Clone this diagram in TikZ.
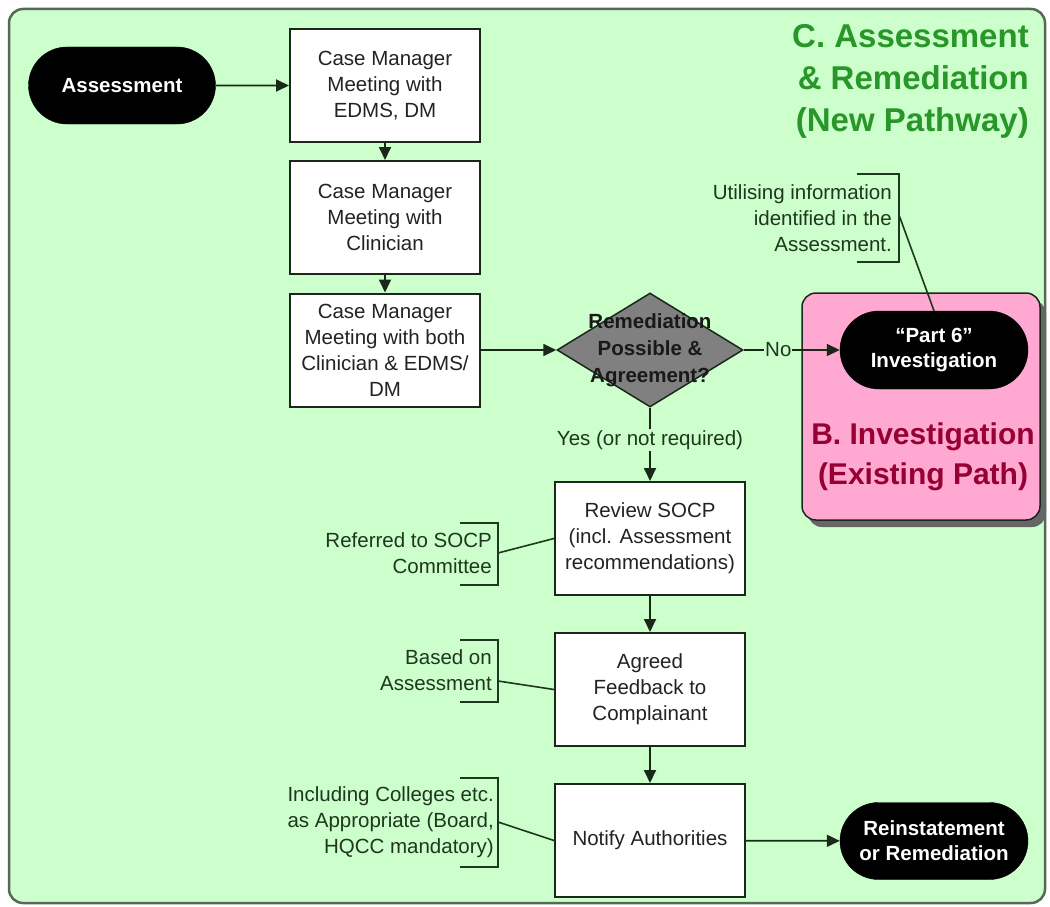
\documentclass[tikz,border=0pt]{standalone}
\usepackage{fontspec}
\setmainfont{Liberation Sans}
\usetikzlibrary{shapes.geometric,shapes.misc,arrows.meta,shadows}

\definecolor{panelgreen}{RGB}{204,255,204}
\definecolor{panelborder}{RGB}{85,105,85}
\definecolor{linecol}{RGB}{25,40,25}
\definecolor{notecol}{RGB}{30,55,30}
\definecolor{titlegreen}{RGB}{40,150,40}
\definecolor{pinkfill}{RGB}{255,168,210}
\definecolor{invred}{RGB}{150,0,50}
\definecolor{diagray}{RGB}{128,128,128}
\definecolor{boxtext}{RGB}{35,35,35}

\tikzset{
  procbox/.style={draw=linecol, line width=2pt, fill=white, rectangle,
    minimum width=190pt, minimum height=113pt, inner sep=2pt, align=center,
    text=boxtext, font=\fontsize{20.5}{26}\selectfont},
  terminal/.style={rounded rectangle, fill=black, draw=black, text=white,
    align=center, inner sep=2pt, font=\bfseries\fontsize{20.5}{25}\selectfont},
  decision/.style={diamond, draw=linecol, line width=1.5pt, fill=diagray,
    minimum width=186pt, minimum height=114pt, inner sep=0pt},
  notetext/.style={align=right, anchor=east, inner sep=0pt, text=notecol,
    font=\fontsize{20.5}{26}\selectfont},
  noteline/.style={draw=notecol, line width=1.6pt},
  flow/.style={draw=linecol, line width=1.8pt,
    -{Triangle[length=13pt,width=12pt]}},
  edgelabel/.style={fill=panelgreen, inner sep=1pt, text=notecol,
    font=\fontsize{20.5}{26}\selectfont},
}

\begin{document}
\begin{tikzpicture}[x=1pt,y=-1pt]
\useasboundingbox (0,0) rectangle (1050,907);

% panel C
\draw[draw=panelborder, line width=2.5pt, fill=panelgreen, rounded corners=14pt]
  (9,9) rectangle (1045,903);

\node[align=right, anchor=north east, inner sep=0pt, text=titlegreen,
  font=\bfseries\fontsize{33}{42}\selectfont] (title) at (1029,24)
  {C. Assessment\\\& Remediation\\(New Pathway)};

% panel B
\node[draw=linecol, line width=1.5pt, fill=pinkfill, rounded corners=14pt,
  minimum width=238pt, minimum height=227pt,
  drop shadow={shadow xshift=6pt, shadow yshift=-7pt, fill=black!60, opacity=1}]
  (inv) at (921,406.5) {};
\node[text=invred, align=center, inner sep=0pt,
  font=\bfseries\fontsize{30}{40}\selectfont] (invlabel) at (923,457)
  {B. Investigation\\(Existing Path)};

% main flow
\node[terminal, minimum width=191pt, minimum height=77pt] (start) at (122,85.5) {Assessment};
\node[procbox] (cm1) at (385,85.5) {Case Manager\\Meeting with\\EDMS, DM};
\node[procbox] (cm2) at (385,217.5) {Case Manager\\Meeting with\\Clinician};
\node[procbox] (cm3) at (385,350) {Case Manager\\Meeting with both\\Clinician \& EDMS/\\DM};
\node[decision] (dec) at (650,350) {};
\node[align=center, inner sep=0pt, text=black!90,
  font=\bfseries\fontsize{20.5}{27}\selectfont] (dectext) at (dec.center)
  {Remediation\\Possible \&\\Agreement?};
\node[terminal, minimum width=192pt, minimum height=78pt] (p6) at (934,350) {“Part 6”\\Investigation};
\node[procbox] (rev) at (650,538.5) {Review SOCP\\(incl. Assessment\\recommendations)};
\node[procbox] (agr) at (650,689.5) {Agreed\\Feedback to\\Complainant};
\node[procbox] (ntf) at (650,840.5) {Notify Authorities};
\node[terminal, minimum width=192pt, minimum height=77pt] (end) at (934,841) {Reinstatement\\or Remediation};

\draw[flow] (start) -- (cm1);
\draw[flow] (cm1) -- (cm2);
\draw[flow] (cm2) -- (cm3);
\draw[flow] (cm3) -- (dec);
\draw[flow] (dec.east) -- node[edgelabel, pos=0.36] {No} (p6.west);
\draw[flow] (dec.south) -- node[edgelabel, pos=0.44] {Yes (or not required)} (rev.north);
\draw[flow] (rev) -- (agr);
\draw[flow] (agr) -- (ntf);
\draw[flow] (ntf) -- (end);

% annotations
\node[notetext] (n0) at (892,218) {Utilising information\\identified in the\\Assessment.};
\draw[noteline] (857,174) -- (899,174) -- (899,262) -- (857,262);
\coordinate (b0) at (899,215);
\draw[noteline] (b0) -- (p6.north);

\node[notetext] (n1) at (492,553) {Referred to SOCP\\Committee};
\draw[noteline] (460,523) -- (498,523) -- (498,585) -- (460,585);
\coordinate (b1) at (498,553);
\draw[noteline] (b1) -- (rev.west);

\node[notetext] (n2) at (492,670) {Based on\\Assessment};
\draw[noteline] (460,640) -- (498,640) -- (498,702) -- (460,702);
\coordinate (b2) at (498,681);
\draw[noteline] (b2) -- (agr.west);

\node[notetext] (n3) at (494,822) {Including Colleges etc.\\as Appropriate (Board,\\HQCC mandatory)};
\draw[noteline] (460,778) -- (498,778) -- (498,867) -- (460,867);
\coordinate (b3) at (498,822);
\draw[noteline] (b3) -- (ntf.west);
\end{tikzpicture}
\end{document}
